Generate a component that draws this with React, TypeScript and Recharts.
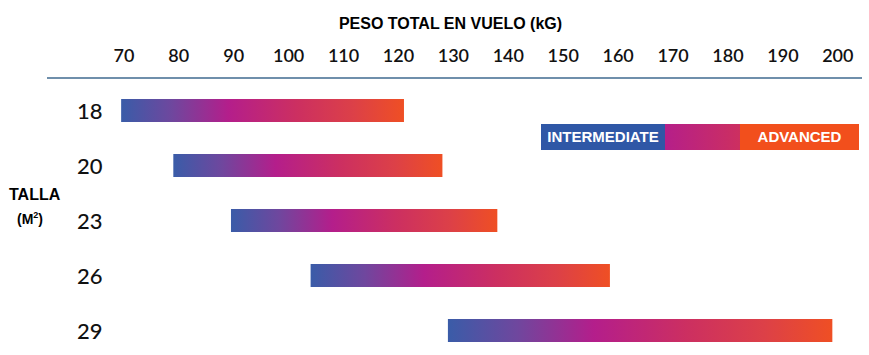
import { BarChart, Bar, XAxis, YAxis, Legend } from 'recharts'

const tallas = ['18', '20', '23', '26', '29']
const pesoMin = [69.5, 79, 89.5, 104, 129]
const pesoMax = [121, 128, 138, 158.5, 199]
const pesoTicks = [70, 80, 90, 100, 110, 120, 130, 140, 150, 160, 170, 180, 190, 200]

const data = tallas.map((t, i) => ({ talla: t, rango: [pesoMin[i], pesoMax[i]] }))

// blue -> magenta -> orange, same for every bar and the legend strip
const STOPS: [string, string][] = [
  ['0%', '#3a5ca8'],
  ['18%', '#6f479e'],
  ['38%', '#b41e8b'],
  ['62%', '#cc2f61'],
  ['82%', '#dc4048'],
  ['100%', '#ef4f24'],
]

const TICK_FONT = 'Lato, "Open Sans", sans-serif'
const LABEL_FONT = '"Liberation Sans", Arial, sans-serif'

function TopTick({ x, payload }: any) {
  return (
    <text x={x} y={62} textAnchor="middle" fontFamily={TICK_FONT} fontSize={18} fontWeight={600} fill="#111">
      {payload.value}
    </text>
  )
}

function SizeTick({ y, payload }: any) {
  return (
    <text x={77} y={y} dy={8} textAnchor="start" fontFamily={TICK_FONT} fontSize={22} fontWeight={500} fill="#111">
      {payload.value}
    </text>
  )
}

function LevelLegend() {
  return (
    <div
      style={{
        width: 318,
        height: 26,
        position: 'relative',
        background: `linear-gradient(90deg, ${STOPS.map(([p, c]) => `${c} ${p}`).join(', ')})`,
        fontFamily: LABEL_FONT,
        fontWeight: 700,
        fontSize: 15,
        color: '#fff',
      }}
    >
      <div style={{ position: 'absolute', left: 0, top: 0, width: 124, height: 26, background: '#2f57a6', lineHeight: '26px', textAlign: 'center' }}>
        INTERMEDIATE
      </div>
      <div style={{ position: 'absolute', right: 0, top: 0, width: 119, height: 26, background: '#f24f1c', lineHeight: '26px', textAlign: 'center' }}>
        ADVANCED
      </div>
    </div>
  )
}

export default function App() {
  return (
    <div style={{ position: 'absolute', left: 0, top: 0, width: 869, height: 355, overflow: 'hidden', background: '#fff' }}>
      <div
        style={{
          position: 'absolute', left: 16, width: 869, top: 15, textAlign: 'center',
          fontFamily: LABEL_FONT, fontWeight: 700, fontSize: 16, color: '#000',
        }}
      >
        PESO TOTAL EN VUELO (kG)
      </div>
      <div style={{ position: 'absolute', left: 9, top: 186, fontFamily: LABEL_FONT, fontWeight: 700, fontSize: 16, color: '#000' }}>
        TALLA
      </div>
      <div style={{ position: 'absolute', left: 17, top: 210, fontFamily: LABEL_FONT, fontWeight: 700, fontSize: 14, color: '#000' }}>
        (M<sup style={{ fontSize: 9 }}>2</sup>)
      </div>
      <BarChart
        width={869}
        height={360}
        data={data}
        layout="vertical"
        margin={{ top: 0, right: 7, bottom: 2, left: 0 }}
        barSize={23}
      >
        <defs>
          <linearGradient id="rangeGrad" x1="0" y1="0" x2="1" y2="0">
            {STOPS.map(([p, c]) => (
              <stop key={p} offset={p} stopColor={c} />
            ))}
          </linearGradient>
        </defs>
        <XAxis
          type="number"
          orientation="top"
          domain={[56, 204.4]}
          ticks={pesoTicks}
          height={78}
          tick={<TopTick />}
          tickLine={false}
          axisLine={{ stroke: '#3f6a8f', strokeWidth: 1.5 }}
          allowDataOverflow
        />
        <YAxis
          type="category"
          dataKey="talla"
          width={47}
          axisLine={false}
          tickLine={false}
          tick={<SizeTick />}
          padding={{ top: 5, bottom: 0 }}
        />
        <Legend
          verticalAlign="middle"
          align="center"
          content={<LevelLegend />}
          wrapperStyle={{ position: 'absolute', left: 541, top: 124, width: 318 }}
        />
        <Bar dataKey="rango" fill="url(#rangeGrad)" isAnimationActive={false} />
      </BarChart>
    </div>
  )
}
